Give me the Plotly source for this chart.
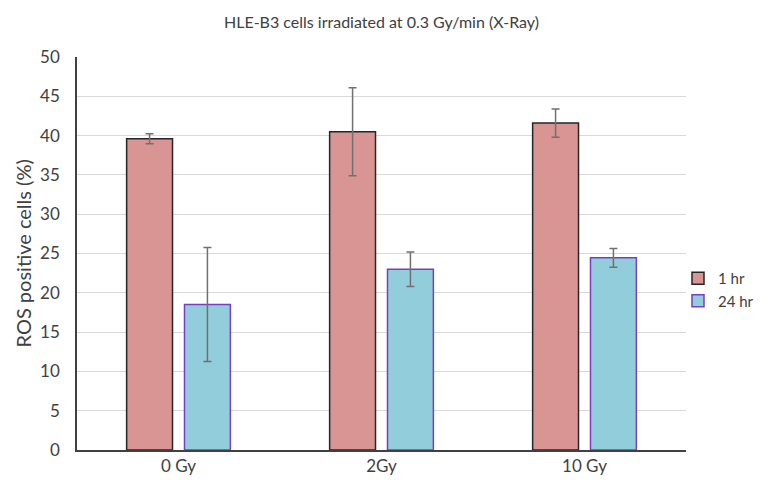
import plotly.graph_objects as go

categories = ["0 Gy", "2Gy", "10 Gy"]
series_names = ["1 hr", "24 hr"]
values_1hr = [39.6, 40.5, 41.6]
err_1hr = [0.65, 5.6, 1.8]
values_24hr = [18.5, 23.0, 24.45]
err_24hr = [7.25, 2.2, 1.2]
y_ticks = [0, 5, 10, 15, 20, 25, 30, 35, 40, 45, 50]

FONT = "Lato, 'Open Sans', sans-serif"
W, H = 761, 478  # page body has an 8px margin inside the 769x486 window

fig = go.Figure()
fig.add_trace(go.Bar(
    name=series_names[0], x=categories, y=values_1hr,
    marker=dict(color="#D99594", line=dict(color="#262626", width=1.5)),
    error_y=dict(type="data", array=err_1hr, color="#707070", thickness=1.5, width=4),
))
fig.add_trace(go.Bar(
    name=series_names[1], x=categories, y=values_24hr,
    marker=dict(color="#92CDDC", line=dict(color="#7A3FC0", width=1.5)),
    error_y=dict(type="data", array=err_24hr, color="#707070", thickness=1.5, width=4),
))

fig.update_layout(
    width=W, height=H,
    margin=dict(l=69, r=83, t=49, b=36, autoexpand=False),
    paper_bgcolor="white", plot_bgcolor="white",
    barmode="group", bargap=0.43, bargroupgap=0.207,
    font=dict(family=FONT, size=16, color="#404040"),
    title=dict(text="HLE-B3 cells irradiated at 0.3 Gy/min (X-Ray)",
               x=0.5, xanchor="center", xref="paper", y=1 - 14 / H, yref="container",
               yanchor="middle",
               font=dict(size=16, color="#404040", family=FONT)),
    showlegend=True,
    legend=dict(xref="container", yref="container", x=670 / W, y=1 - 281.5 / H,
                xanchor="left", yanchor="middle",
                font=dict(size=15, color="#404040"), tracegroupgap=2,
                bgcolor="rgba(0,0,0,0)"),
    xaxis=dict(showline=True, linecolor="#404040", linewidth=1.5, automargin=False,
               ticks="", showgrid=False, tickfont=dict(size=17)),
    yaxis=dict(range=[0, 50], tickvals=y_ticks, showline=True, automargin=False,
               linecolor="#404040", linewidth=1.5, showgrid=True,
               gridcolor="#D9D9D9", gridwidth=1.2, ticks="", zeroline=False,
               tickfont=dict(size=17), ticklabelstandoff=12),
    annotations=[dict(text="ROS positive cells (%)", textangle=-90,
                      xref="paper", yref="paper", x=(14 - 69) / 609, y=0.5,
                      xanchor="center", yanchor="middle", showarrow=False,
                      font=dict(size=20, color="#404040", family=FONT))],
)

fig.write_html("out.html")
